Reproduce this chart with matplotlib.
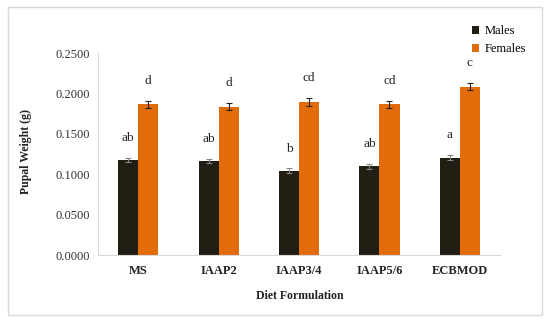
import matplotlib
matplotlib.use("Agg")
import matplotlib.pyplot as plt
import numpy as np
from matplotlib.patches import Rectangle

categories = ["MS", "IAAP2", "IAAP3/4", "IAAP5/6", "ECBMOD"]
males = [0.1176, 0.1163, 0.1043, 0.1100, 0.1204]
females = [0.1865, 0.1835, 0.1894, 0.1865, 0.2083]
males_err = [0.0030, 0.0030, 0.0030, 0.0030, 0.0030]
females_err = [0.0045, 0.0045, 0.0045, 0.0045, 0.0045]
males_letters = ["ab", "ab", "b", "ab", "a"]
females_letters = ["d", "d", "cd", "cd", "c"]
yticks = [0.0, 0.05, 0.10, 0.15, 0.20, 0.25]

plt.rcParams['font.family'] = ['Liberation Serif', 'DejaVu Serif']

fig = plt.figure(figsize=(5.5, 3.22), dpi=100)
fig.patches.append(Rectangle((8/550, 7/322), 534/550, 308/322, transform=fig.transFigure,
                             fill=False, edgecolor='#d9d9d9', linewidth=1))
ax = fig.add_axes([98/550, (322-255)/322, 402/550, 202/322])

x = np.arange(len(categories))
w = 0.25
male_c = '#221e14'
fem_c = '#e36c0a'
b1 = ax.bar(x - w/2, males, w, color=male_c, label='Males',
            yerr=males_err, error_kw=dict(ecolor='#888888', capsize=2.5, elinewidth=0.8, capthick=0.8))
b2 = ax.bar(x + w/2, females, w, color=fem_c, label='Females',
            yerr=females_err, error_kw=dict(ecolor='#222222', capsize=2.5, elinewidth=0.8, capthick=0.8))

for i in range(len(categories)):
    ax.annotate(males_letters[i], (x[i] - w/2, males[i]), xytext=(0, 16), textcoords='offset points',
                ha='center', va='center', fontsize=9.5, color='#222222')
    ax.annotate(females_letters[i], (x[i] + w/2, females[i]), xytext=(0, 17), textcoords='offset points',
                ha='center', va='center', fontsize=9.5, color='#222222')

ax.set_xlim(-0.5, len(categories) - 0.5)
ax.set_ylim(0, 0.25)
ax.set_yticks(yticks)
ax.set_yticklabels([f"{v:.4f}" for v in yticks], fontsize=9, color='#333333')
ax.set_xticks(x)
ax.set_xticklabels(categories, fontsize=9, fontweight='bold', color='#222222')
ax.tick_params(axis='both', length=0, pad=6)
ax.tick_params(axis='x', pad=7)
for s in ['top', 'right']:
    ax.spines[s].set_visible(False)
ax.spines['left'].set_color('#d9d9d9')
ax.spines['bottom'].set_color('#d9d9d9')

fig.text(26/550, 1 - 152/322, "Pupal Weight (g)", rotation=90, ha='center', va='center',
         fontsize=8.5, fontweight='bold', color='#222222')
fig.text(300/550, 1 - 296/322, "Diet Formulation", ha='center', va='center',
         fontsize=8.5, fontweight='bold', color='#222222')

leg = fig.legend(handles=[b1, b2], labels=['Males', 'Females'], loc='upper right',
                 bbox_to_anchor=(537/550, 1 - 14/322), frameon=False, fontsize=9,
                 handlelength=0.6, handleheight=0.6, handletextpad=0.4, labelspacing=0.5)

fig.savefig("out.png", dpi=100)
